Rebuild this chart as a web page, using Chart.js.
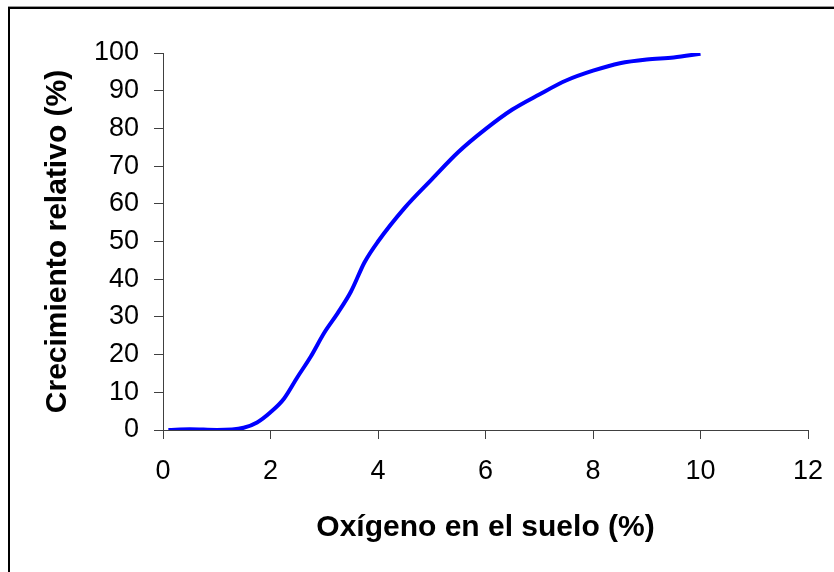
<!DOCTYPE html>
<html>
<head>
<meta charset="utf-8">
<script src="https://cdn.jsdelivr.net/npm/chart.js@4/dist/chart.umd.min.js"></script>
<style>
  html, body { margin: 0; padding: 0; background: #fff; overflow: hidden; }
  #wrap { position: relative; width: 834px; height: 572px; }
  #frame {
    position: absolute; left: 8px; top: 7px; width: 900px; height: 700px;
    border: 2px solid #000; box-shadow: 0 -1px 0 #999;
  }
  canvas { position: absolute; left: 0; top: 0; }
</style>
</head>
<body>
<div id="wrap">
  <div id="frame"></div>
  <canvas id="myChart" width="834" height="572"></canvas>
</div>
<script>
// Oxygen in soil (%) vs relative growth (%)
const oxygen = [0.1, 0.5, 1, 1.5, 1.75, 2, 2.25, 2.5, 2.75, 3, 3.25, 3.5, 3.75, 4, 4.5, 5, 5.5, 6, 6.5, 7, 7.5, 8, 8.5, 9, 9.5, 10];
const growth = [0, 0.2, 0, 0.6, 2, 4.7, 8.3, 14, 19.5, 25.8, 31, 36.8, 44.5, 50, 59, 66.5, 73.8, 79.8, 85, 89, 92.7, 95.3, 97.3, 98.3, 98.8, 99.8];
const xTicks = [0, 2, 4, 6, 8, 10, 12];
const yTicks = [0, 10, 20, 30, 40, 50, 60, 70, 80, 90, 100];

const points = oxygen.map((x, i) => ({ x: x, y: growth[i] }));
const axisColor = '#404040';
const fontFamily = '"Liberation Sans", Arial, sans-serif';

const ctx = document.getElementById('myChart').getContext('2d');
const myChart = new Chart(ctx, {
    type: 'line',
    data: {
        datasets: [{
            data: points,
            borderColor: '#0000FF',
            borderWidth: 4,
            pointRadius: 0,
            tension: 0.4,
            cubicInterpolationMode: 'monotone',
            fill: false
        }]
    },
    options: {
        responsive: false,
        animation: false,
        devicePixelRatio: 1,
        layout: { padding: { top: 53, right: 26, bottom: 0, left: 0 } },
        plugins: {
            legend: { display: false },
            tooltip: { enabled: false }
        },
        scales: {
            x: {
                type: 'linear',
                min: 0,
                max: 12,
                afterBuildTicks: (scale) => { scale.ticks = xTicks.map(v => ({ value: v })); },
                afterFit: (scale) => {
                    scale.height = 142;
                    scale.paddingLeft = 0;
                    scale.paddingRight = 0;
                },
                grid: { drawOnChartArea: false, drawTicks: true, tickLength: 9, color: axisColor },
                border: { color: axisColor, width: 1 },
                ticks: { color: '#000', padding: 16, font: { family: fontFamily, size: 27 } },
                title: {
                    display: true,
                    text: 'Oxígeno en el suelo (%)',
                    color: '#000',
                    padding: { top: 0, bottom: 26 },
                    font: { family: fontFamily, size: 30, weight: 'bold' }
                }
            },
            y: {
                type: 'linear',
                min: 0,
                max: 100,
                afterBuildTicks: (scale) => { scale.ticks = yTicks.map(v => ({ value: v })); },
                afterFit: (scale) => {
                    scale.width = 163;
                    scale.paddingTop = 0;
                    scale.paddingBottom = 0;
                },
                grid: { drawOnChartArea: false, drawTicks: true, tickLength: 9, color: axisColor },
                border: { color: axisColor, width: 1 },
                ticks: { color: '#000', padding: 15, font: { family: fontFamily, size: 27 } },
                title: {
                    display: true,
                    text: 'Crecimiento relativo (%)',
                    color: '#000',
                    padding: { top: 40, bottom: 0 },
                    font: { family: fontFamily, size: 30, weight: 'bold' }
                }
            }
        }
    }
});
</script>
</body>
</html>
